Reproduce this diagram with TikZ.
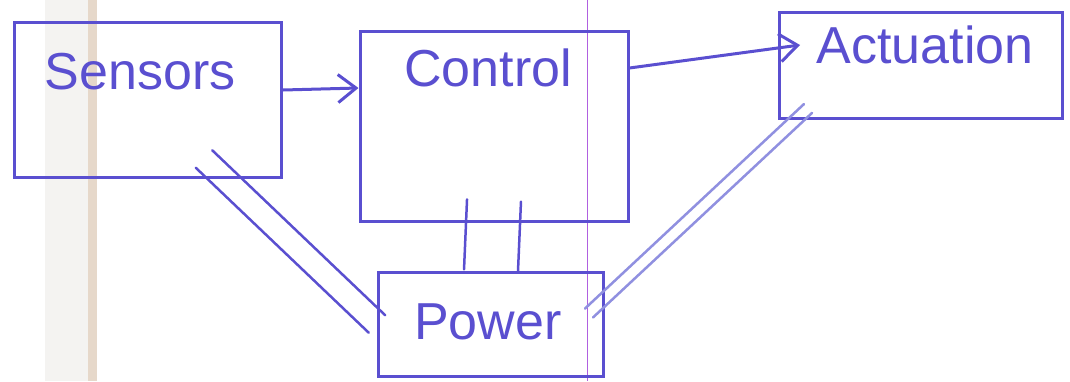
\documentclass[tikz,border=0pt]{standalone}
\usepackage{fontspec}
\setmainfont{Liberation Sans}
\usetikzlibrary{arrows.meta,positioning,calc,backgrounds}
\definecolor{pen}{HTML}{5A4FD0}
\definecolor{palepen}{HTML}{9090E0}
\definecolor{margin}{HTML}{B060E0}
\definecolor{fold}{HTML}{E6D8CA}
\definecolor{sheet}{HTML}{F4F3F1}

\tikzset{
  box/.style={draw=pen, line width=3pt, rectangle},
  word/.style={text=pen, font=\fontsize{52}{60}\selectfont, inner sep=0pt},
  flow/.style={draw=pen, line width=3pt, -{Straight Barb[length=18pt,width=28pt,line width=3pt]}},
  rail/.style={draw=pen, line width=2.5pt, line cap=round},
}

\begin{document}
\begin{tikzpicture}[x=1pt,y=-1pt]
\useasboundingbox (0,0) rectangle (1070,381);

% paper
\fill[sheet] (45,0) rectangle (88,381);
\fill[fold] (88,0) rectangle (97,381);
\draw[margin, line width=0.8pt] (587,0) -- (587,381);

% blocks
\node[box, minimum width=267pt, minimum height=155pt] (sens) at (148,100) {};
\node[box, minimum width=268pt, minimum height=190pt] (ctrl) at (494,126) {};
\node[box, minimum width=283pt, minimum height=106pt] (act) at (921,65) {};
\node[box, minimum width=225pt, minimum height=104pt] (pow) at (491,324) {};

\node[word] (senstxt) at (140,72) {Sensors};
\node[word] (ctrltxt) at (488,68) {Control};
\node[word] (acttxt) at (925,45) {Actuation};
\node[word] (powtxt) at (488,322) {Power};

% signal flow
\draw[flow] ([yshift=10pt]sens.east) -- ([yshift=38pt]ctrl.west);
\draw[flow] ([yshift=58pt]ctrl.east) -- ([xshift=22pt,yshift=20pt]act.west);

% power lines
\coordinate (s0) at ([shift={(56,-20)}]sens.south);
\coordinate (c0) at ([yshift=22pt]ctrl.south);
\coordinate (p0) at ([shift={(-16,-11)}]pow.east);
\coordinate (a0) at ([shift={(-113,-11)}]act.south);
\foreach \s in {-1,1} {
  \draw[rail] ($(s0)!\s*12pt!90:(pow.west)$) -- ($(pow.west)!\s*12pt!-90:(s0)$);
  \draw[rail] ($(c0)!\s*27pt!90:(pow.north)$) -- ($(pow.north)!\s*27pt!-90:(c0)$);
  \draw[rail, draw=palepen] ($(p0)!\s*6pt!90:(a0)$) -- ($(a0)!\s*6pt!-90:(p0)$);
}
\end{tikzpicture}
\end{document}
